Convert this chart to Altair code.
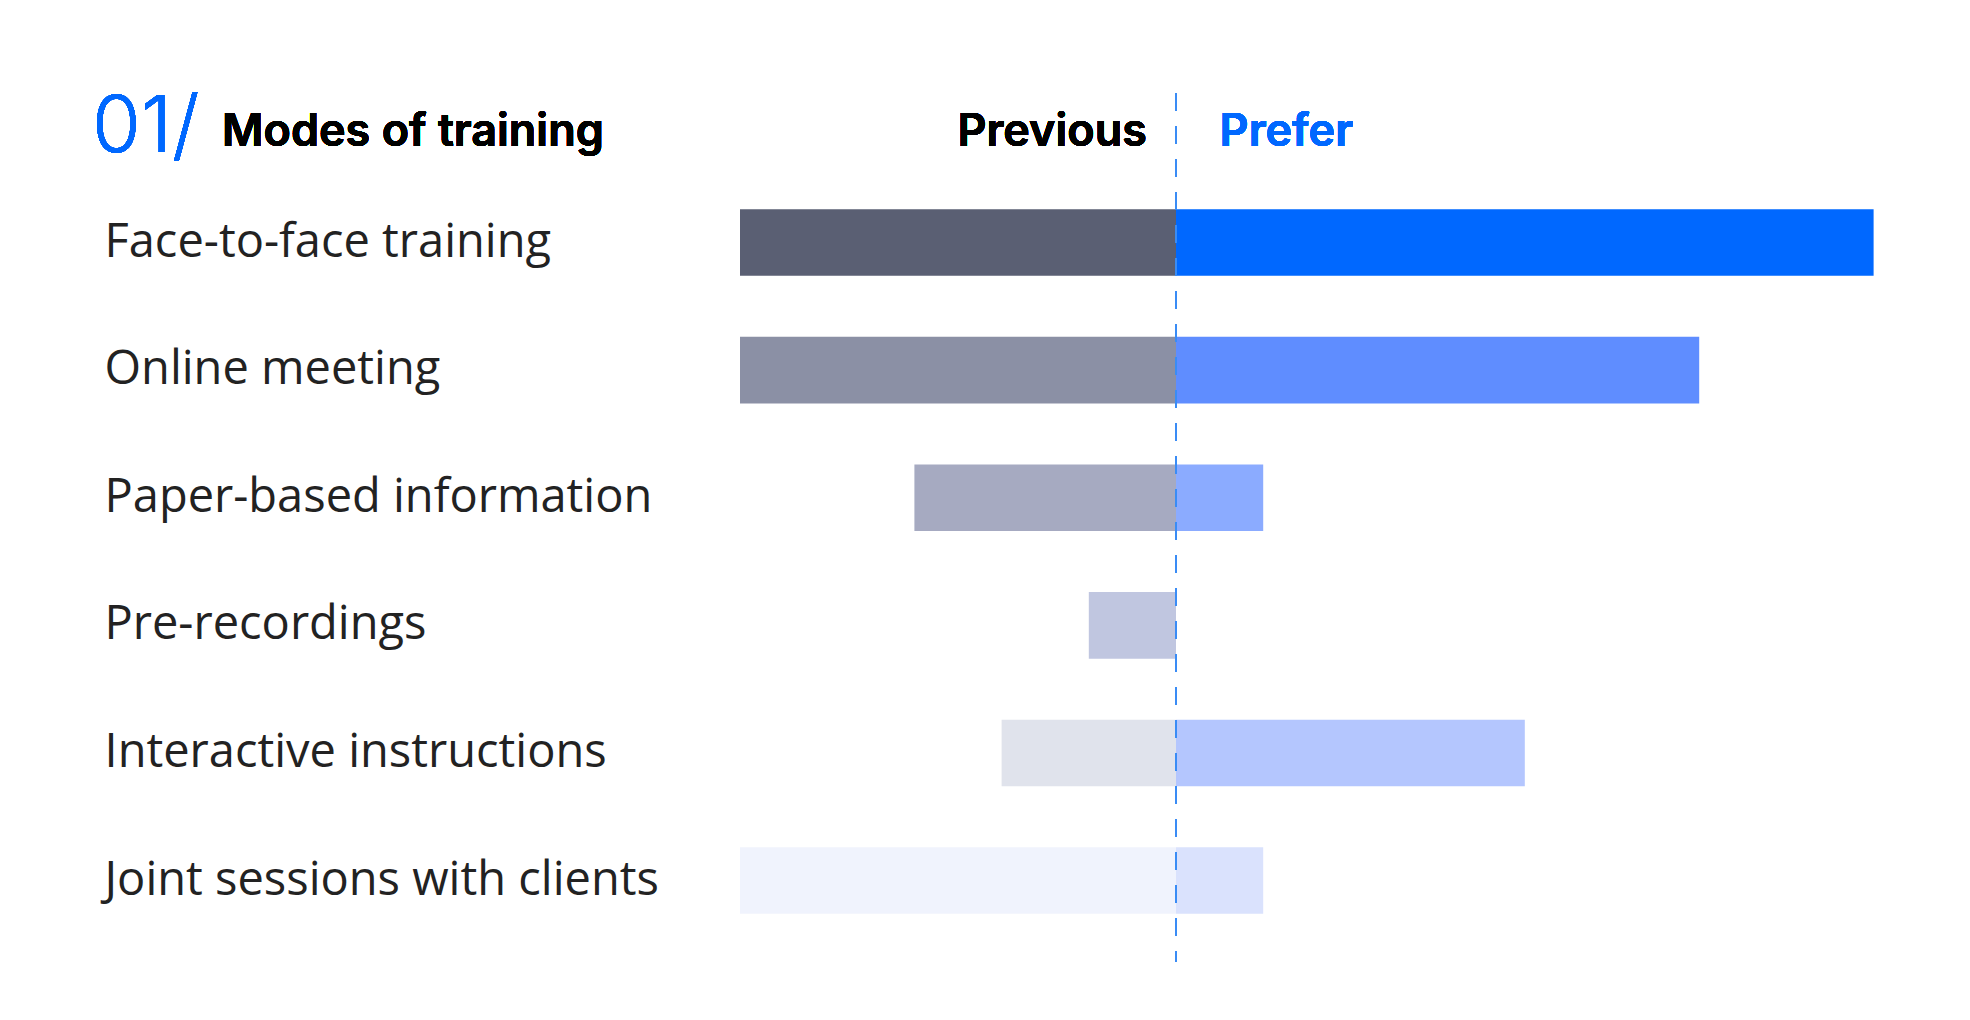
import altair as alt
import pandas as pd

categories = [
    "Face-to-face training",
    "Online meeting",
    "Paper-based information",
    "Pre-recordings",
    "Interactive instructions",
    "Joint sessions with clients",
]
previous = [5, 5, 3, 1, 2, 5]
prefer = [8, 6, 1, 0, 4, 1]

prev_colors = ["#5a5f73", "#8b90a5", "#a6aac1", "#c0c6e0", "#e0e3ec", "#f0f3fd"]
pref_colors = ["#0068ff", "#5f8dff", "#8babff", "#b4c6fe", "#b4c6fe", "#dae2fd"]

headings = ["Previous", "Prefer"]
title_num = "01/"
title_text = "Modes of training"

rows = []
keys, colors = [], []
for i, c in enumerate(categories):
    rows.append({"category": c, "key": f"prev-{i}", "lo": -previous[i], "hi": 0})
    rows.append({"category": c, "key": f"pref-{i}", "lo": 0, "hi": prefer[i]})
    keys += [f"prev-{i}", f"pref-{i}"]
    colors += [prev_colors[i], pref_colors[i]]
df = pd.DataFrame(rows)

LABEL_FONT = "Open Sans"
HEAD_FONT = "Inter"

xscale = alt.Scale(domain=[-5, 8.532], nice=False, zero=False)
yscale = alt.Scale(domain=categories, paddingInner=0.478, paddingOuter=0.644, align=0.707)

bars = alt.Chart(df).mark_bar(cornerRadius=0).encode(
    x=alt.X("lo:Q", scale=xscale, axis=None),
    x2="hi:Q",
    y=alt.Y(
        "category:N",
        scale=yscale,
        sort=categories,
        axis=alt.Axis(
            title=None,
            domain=False,
            ticks=False,
            labelAlign="left",
            labelPadding=636,
            labelFont=LABEL_FONT,
            labelFontSize=47,
            labelColor="#222222",
            labelLimit=1000,
            labelBaseline="middle",
        ),
    ),
    color=alt.Color("key:N", scale=alt.Scale(domain=keys, range=colors), legend=None),
)

rule = alt.Chart(df).mark_rule(color="#3a8cf5", strokeWidth=2, strokeDash=[18, 15]).encode(
    x=alt.datum(0)
)

head_prev = alt.Chart(df).mark_text(
    text=headings[0], font=HEAD_FONT, fontWeight=600, fontSize=45,
    align="right", baseline="alphabetic", color="#000000"
).encode(x=alt.datum(-0.333), y=alt.value(53))

head_pref = alt.Chart(df).mark_text(
    text=headings[1], font=HEAD_FONT, fontWeight=600, fontSize=45,
    align="left", baseline="alphabetic", color="#0068ff"
).encode(x=alt.datum(0.5), y=alt.value(53))

t_num = alt.Chart(df).mark_text(
    text=title_num, font=HEAD_FONT, fontWeight=300, fontSize=79,
    align="left", baseline="alphabetic", color="#0068ff"
).encode(x=alt.value(92 - 740), y=alt.value(59))

t_text = alt.Chart(df).mark_text(
    text=title_text, font=HEAD_FONT, fontWeight=600, fontSize=45,
    align="left", baseline="alphabetic", color="#000000"
).encode(x=alt.value(222 - 740), y=alt.value(53))

chart = alt.layer(bars, rule, head_prev, head_pref, t_num, t_text).properties(
    width=1180,
    height=869,
    background="#ffffff",
    autosize=alt.AutoSizeParams(type="none"),
    padding={"left": 740, "top": 93, "right": 50, "bottom": 58},
).configure_view(strokeWidth=0, stroke=None)

chart.save("out.html", embed_options={"renderer": "svg", "actions": False})
